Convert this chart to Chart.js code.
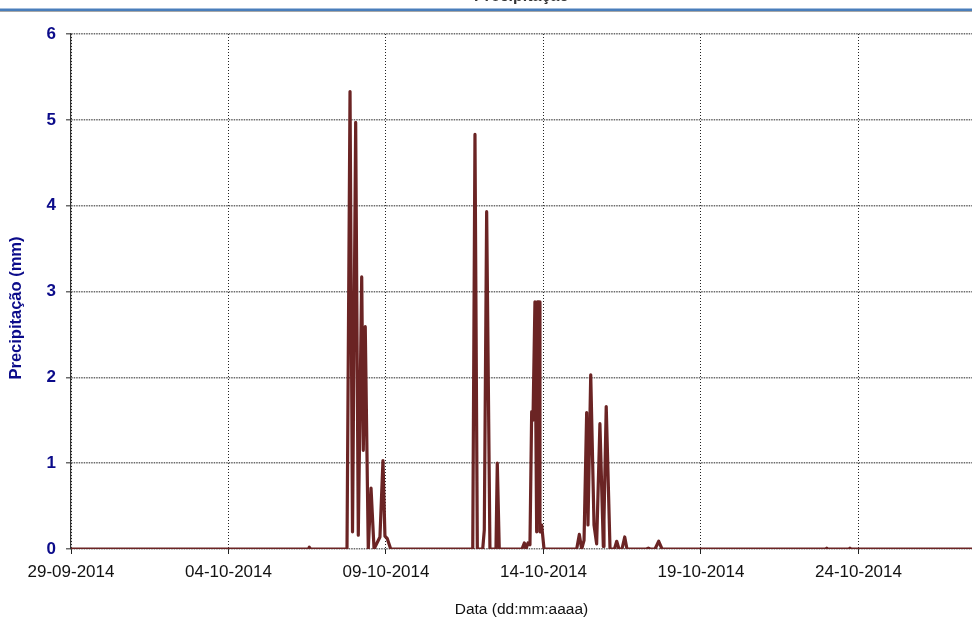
<!DOCTYPE html>
<html>
<head>
<meta charset="utf-8">
<script src="https://cdn.jsdelivr.net/npm/chart.js@4"></script>
<style>
  html, body { margin: 0; padding: 0; background: #fff; }
  #wrap { width: 972px; height: 621px; }
</style>
</head>
<body>
<div id="wrap"><canvas id="chart" width="972" height="621"></canvas></div>
<script>
// hours since 29-09-2014 00:00 and precipitation (mm)
const hours = [
    0, 181, 181.6, 182.5,
    210.3, 212.6, 214.5, 216.9, 218.9, 221.5, 222.7, 224.2, 226.5, 228.6, 230.9,
    235.4, 237.7, 239.2, 241, 243.6,
    306.1, 307.8, 309.6, 313.7, 314.9, 316.7, 319.2, 323.8, 324.8, 326.3,
    343.6, 345.4, 346.7, 348.2, 349.7, 351, 352, 353.5, 354.8, 355.3, 356.6, 357.3, 358.6, 360.4,
    385.3, 387.3, 389.1, 390.9, 392.9, 393.9, 396, 398.5, 400.5, 403, 405.6, 406.1, 407.8, 410.7,
    414.1, 415.8, 417.5, 419.8, 421.9, 423.6, 438.5, 439.9, 441.3, 445, 447.8, 450.3,
    575, 575.8, 576.6, 592.7, 593.5, 594.3, 686.5
];
const precip = [
    0, 0, 0.02, 0,
    0, 5.33, 0.2, 4.97, 0.16, 3.17, 1.15, 2.59, 0, 0.71, 0,
    0.14, 1.03, 0.15, 0.12, 0,
    0, 4.83, 0, 0, 0.22, 3.93, 0, 0, 1.0, 0,
    0, 0.07, 0, 0.07, 0.05, 1.6, 1.5, 2.88, 0.2, 2.88, 2.88, 0.2, 0.28, 0,
    0, 0.17, 0, 0.1, 1.59, 0.28, 2.03, 0.28, 0.06, 1.46, 0.03, 0.34, 1.66, 0,
    0, 0.09, 0, 0, 0.14, 0, 0, 0.01, 0, 0, 0.09, 0,
    0, 0.01, 0, 0, 0.01, 0, 0
];
const tickHours = [0, 120, 240, 360, 480, 600];
const tickLabels = ["29-09-2014", "04-10-2014", "09-10-2014", "14-10-2014", "19-10-2014", "24-10-2014"];
const yTicks = [0, 1, 2, 3, 4, 5, 6];

const navy = "#0b0b8a";
const fontFamily = "'Liberation Sans', Arial, sans-serif";

// top banner, chart title and y axis title (sits a bit below centre in the original)
const chartText = {
    id: "chartText",
    afterDraw(chart) {
        const { ctx, chartArea } = chart;
        ctx.save();
        ctx.fillStyle = "#4a7ebb";
        ctx.fillRect(0, 8.5, chart.width, 2.5);
        ctx.fillStyle = "#a8a8a8";
        ctx.fillRect(0, 11, chart.width, 1);
        ctx.fillStyle = "#333";
        ctx.font = "bold 16px " + fontFamily;
        ctx.textAlign = "center";
        ctx.textBaseline = "alphabetic";
        ctx.fillText("Precipitação", (chartArea.left + chartArea.right) / 2, 0.5);

        ctx.translate(16, 308);
        ctx.rotate(-Math.PI / 2);
        ctx.fillStyle = navy;
        ctx.font = "bold 16.5px " + fontFamily;
        ctx.textBaseline = "middle";
        ctx.fillText("Precipitação (mm)", 0, 0);
        ctx.restore();
    },
};

new Chart(document.getElementById("chart"), {
    type: "line",
    data: {
        datasets: [
            {
                data: hours.map((h, i) => ({ x: h, y: precip[i] })),
                borderColor: "#6b2424",
                borderWidth: 3.2,
                borderJoinStyle: "round",
                pointRadius: 0,
                tension: 0,
                fill: false,
            },
        ],
    },
    options: {
        responsive: false,
        animation: false,
        layout: { padding: { top: 34, right: 0, left: 0, bottom: 0 } },
        plugins: {
            legend: { display: false },
            tooltip: { enabled: false },
        },
        scales: {
            x: {
                type: "linear",
                min: 0,
                max: 686.5,
                afterFit(scale) {
                    scale.height = 72;
                },
                afterBuildTicks(scale) {
                    scale.ticks = tickHours.map((v) => ({ value: v }));
                },
                ticks: {
                    autoSkip: false,
                    maxRotation: 0,
                    padding: 8,
                    color: "#111",
                    font: { family: fontFamily, size: 17 },
                    callback: (v) => tickLabels[tickHours.indexOf(v)],
                },
                grid: {
                    color: "#222",
                    lineWidth: 1,
                    tickLength: 5,
                },
                border: { display: false, dash: [1, 2] },
                title: {
                    display: true,
                    text: "Data (dd:mm:aaaa)",
                    color: "#111",
                    font: { family: fontFamily, size: 15.5 },
                    padding: { top: 0, bottom: 2 },
                },
            },
            y: {
                min: 0,
                max: 6,
                afterFit(scale) {
                    scale.width = 71;
                },
                afterBuildTicks(scale) {
                    scale.ticks = yTicks.map((v) => ({ value: v }));
                },
                ticks: {
                    padding: 10,
                    color: navy,
                    font: { family: fontFamily, size: 17, weight: "bold" },
                },
                grid: {
                    color: "#6a6a6a",
                    lineWidth: 1.5,
                    tickLength: 5,
                },
                border: { display: true, color: "#333", width: 1.2, dash: [1.5, 1] },
                title: { display: false },
            },
        },
    },
    plugins: [chartText],
});
</script>
</body>
</html>
